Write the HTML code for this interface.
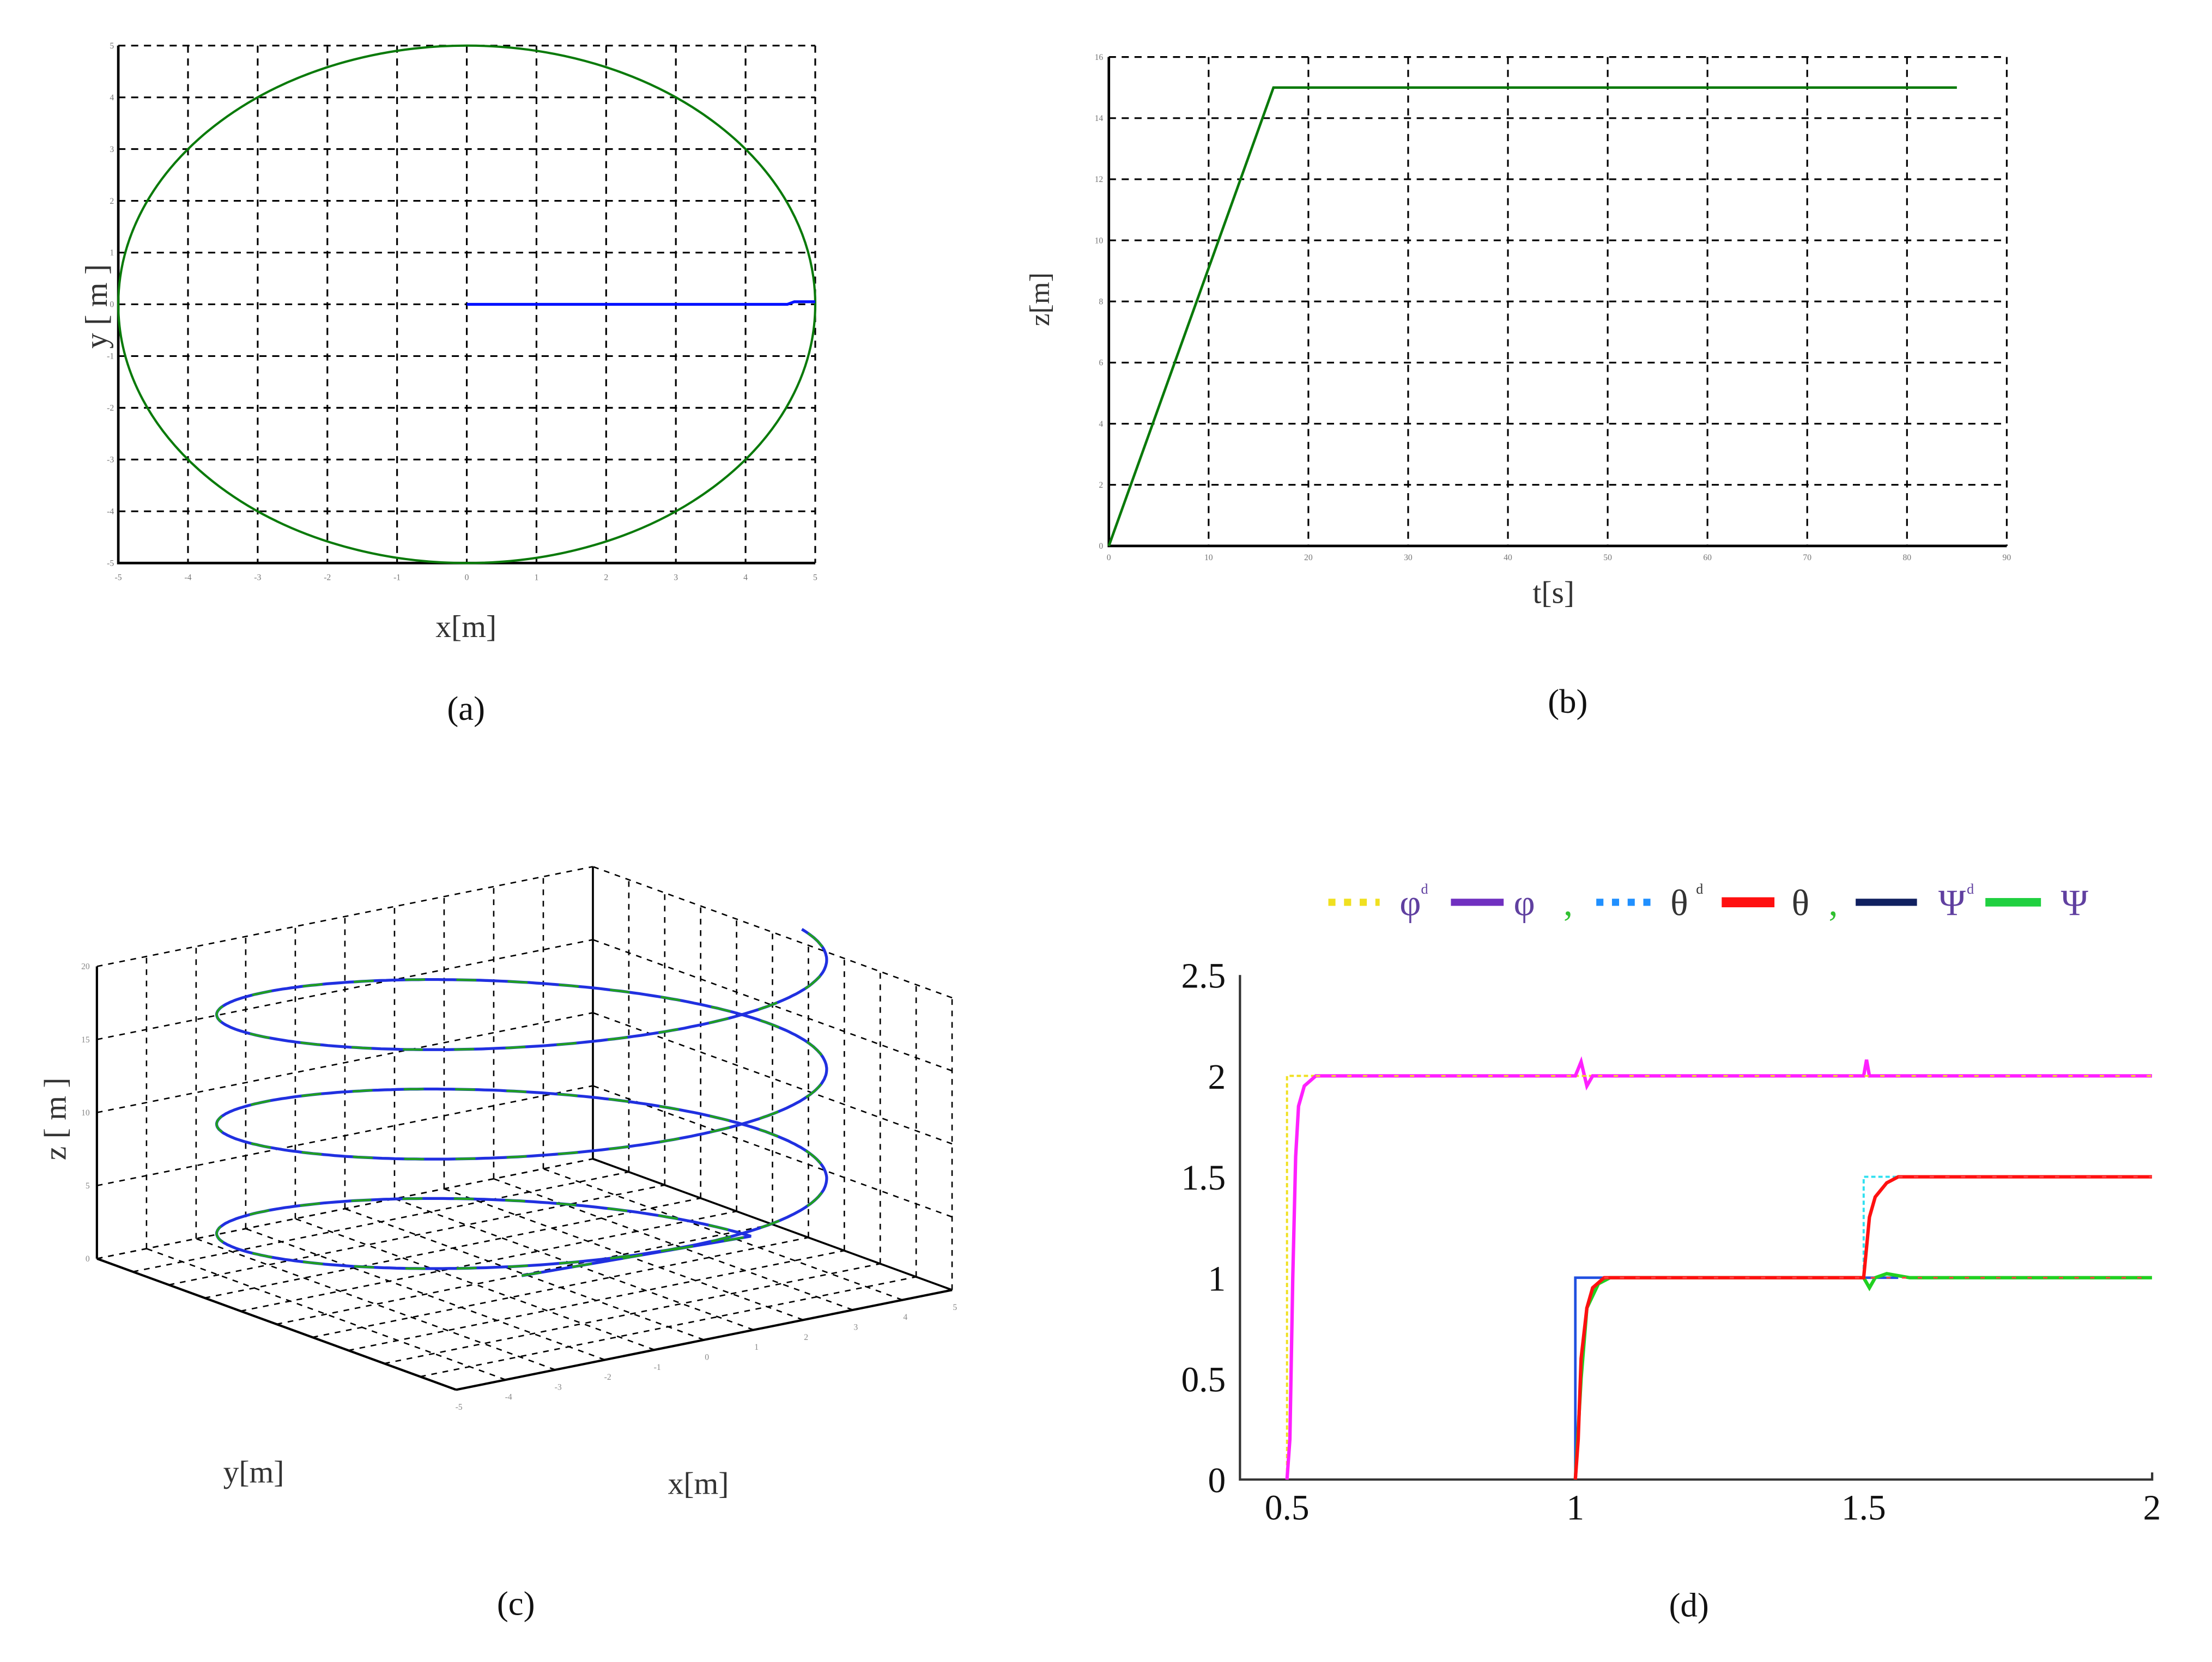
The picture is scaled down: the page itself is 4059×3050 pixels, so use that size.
<!DOCTYPE html>
<html><head><meta charset="utf-8"><style>
html,body{margin:0;padding:0;background:#fff;}
svg{display:block;}
text{font-family:"Liberation Serif",serif;}
</style></head><body>
<svg id="fig" width="4059" height="3050" viewBox="0 0 1552 1166" preserveAspectRatio="none" xmlns="http://www.w3.org/2000/svg">
<rect width="1552" height="1166" fill="#fff"/>
<g id="pa"></g>
<g id="pb"></g>
<g id="pc"></g>
<g id="pd"></g>
</svg>
<script>
// ---- Panel (a) data
const aTicks = [-5,-4,-3,-2,-1,0,1,2,3,4,5];
const aCircleR = [5];
const aBlueX = [0, 4.6, 4.7, 5];
const aBlueY = [0, 0, 0.05, 0.05];
// ---- Panel (b) data
const bXTicks = [0,10,20,30,40,50,60,70,80,90];
const bYTicks = [0,2,4,6,8,10,12,14,16];
const bT = [0, 16.5, 85];
const bZ = [0, 15, 15];
// ---- Panel (c) data
const cZTicks = [0,5,10,15,20];
const cXTicks = [-5,-4,-3,-2,-1,0,1,2,3,4,5];
const cTurns = [2.95];
const cZTop = [22.1];
const cStartAngle = [0.72];
// ---- Panel (d) data
const dXTicks = [0.5,1,1.5,2];
const dYTicks = [0,0.5,1,1.5,2,2.5];
const phiDT = [0.5,0.5,2];       const phiDV = [0,2,2];
const phiT = [0.5,0.505,0.51,0.515,0.52,0.53,0.55,1.0,1.01,1.02,1.03,1.5,1.505,1.51,2];
const phiV = [0,0.2,1.0,1.6,1.85,1.95,2,2,2.07,1.95,2,2,2.08,2,2];
const thDT = [1,1,1.5,1.5,2];  const thDV = [0,1,1,1.5,1.5];
const thT = [1,1.005,1.01,1.02,1.03,1.05,1.5,1.505,1.51,1.52,1.54,1.56,2];
const thV = [0,0.2,0.6,0.85,0.95,1,1,1.15,1.3,1.4,1.47,1.5,1.5];
const psDT = [1,1,1.5,1.5,1.56];      const psDV = [0,1,1,1,1];
const psT = [1,1.01,1.02,1.04,1.06,1.5,1.51,1.52,1.54,1.58,2];
const psV = [0,0.5,0.85,0.97,1,1,0.95,1.0,1.02,1.0,1];

const NS='http://www.w3.org/2000/svg';
function mk(parent,tag,attrs,txt){const e=document.createElementNS(NS,tag);for(const k in attrs)e.setAttribute(k,attrs[k]);if(txt!==undefined)e.textContent=txt;parent.appendChild(e);return e;}
function pts(xs,ys,sx,sy){return xs.map((x,i)=>sx(x)+','+sy(ys[i])).join(' ');}

// ===== Panel A
(function(){
const g=document.getElementById('pa');
const L=83,R=572,T=32,B=395;
const sx=v=>L+(v+5)/10*(R-L), sy=v=>B-(v+5)/10*(B-T);
aTicks.forEach(t=>{
  const gl=mk(g,'line',{x1:sx(t),x2:sx(t),y1:T,y2:B,stroke:'#000','stroke-width':1.2,'stroke-dasharray':'5,4'});
  
  
  const gh=mk(g,'line',{x1:L,x2:R,y1:sy(t),y2:sy(t),stroke:'#000','stroke-width':1.2,'stroke-dasharray':'5,4'});
  
  
  const tx=mk(g,'text',{x:sx(t),y:B+12,'font-size':6,'text-anchor':'middle',fill:'#777'},t);
  
  
  const ty=mk(g,'text',{x:L-3,y:sy(t)+2,'font-size':6,'text-anchor':'end',fill:'#777'},t);
  
  
});
const ax=mk(g,'polyline',{points:`${L},${T} ${L},${B} ${R},${B}`,fill:'none',stroke:'#000','stroke-width':1.8});


const r=aCircleR[0];
const c=mk(g,'ellipse',{cx:sx(0),cy:sy(0),rx:sx(r)-sx(0),ry:sy(0)-sy(r),fill:'none',stroke:'#0a7a0a','stroke-width':1.6});


const bl=mk(g,'polyline',{points:pts(aBlueX,aBlueY,sx,sy),fill:'none',stroke:'#0010ff','stroke-width':2});


const xl=mk(g,'text',{x:327,y:447,'font-size':22,'text-anchor':'middle',fill:'#333'},'x[m]');


const yl=mk(g,'text',{x:0,y:0,'font-size':22,'text-anchor':'middle',fill:'#333',transform:'translate(75,215) rotate(-90)'},'y [ m ]');


const cap=mk(g,'text',{x:327,y:505,'font-size':24,'text-anchor':'middle',fill:'#111'},'(a)');


})();

// ===== Panel B
(function(){
const g=document.getElementById('pb');
const L=778,R=1408,T=40,B=383;
const sx=v=>L+v/90*(R-L), sy=v=>B-v/16*(B-T);
bXTicks.forEach(t=>{
  const gl=mk(g,'line',{x1:sx(t),x2:sx(t),y1:T,y2:B,stroke:'#000','stroke-width':1.2,'stroke-dasharray':'5,4'});
  
  
  const tx=mk(g,'text',{x:sx(t),y:B+10,'font-size':6,'text-anchor':'middle',fill:'#777'},t);
  
  
});
bYTicks.forEach(t=>{
  const gh=mk(g,'line',{x1:L,x2:R,y1:sy(t),y2:sy(t),stroke:'#000','stroke-width':1.2,'stroke-dasharray':'5,4'});
  
  
  const ty=mk(g,'text',{x:L-4,y:sy(t)+2,'font-size':6,'text-anchor':'end',fill:'#777'},t);
  
  
});
const ax=mk(g,'polyline',{points:`${L},${T} ${L},${B} ${R},${B}`,fill:'none',stroke:'#000','stroke-width':1.8});


const ln=mk(g,'polyline',{points:pts(bT,bZ,sx,sy),fill:'none',stroke:'#0a7a0a','stroke-width':1.8});


const xl=mk(g,'text',{x:1090,y:423,'font-size':22,'text-anchor':'middle',fill:'#333'},'t[s]');


const yl=mk(g,'text',{x:0,y:0,'font-size':20,'text-anchor':'middle',fill:'#333',transform:'translate(736,210) rotate(-90)'},'z[m]');


const cap=mk(g,'text',{x:1100,y:500,'font-size':24,'text-anchor':'middle',fill:'#111'},'(b)');


})();

// ===== Panel C (3D)
(function(){
const g=document.getElementById('pc');
const O=[320,975], ex=[348,-70], ey=[-252,-92], ez=[0,-205];
const P=(x,y,z)=>{const u=(x+5)/10,v=(y+5)/10,w=z/20;return [O[0]+u*ex[0]+v*ey[0]+w*ez[0],O[1]+u*ex[1]+v*ey[1]+w*ez[1]];};
const dash={stroke:'#000','stroke-width':1,'stroke-dasharray':'4,4',fill:'none'};
function L3(a,b,st,name){const p=P(...a),q=P(...b);const l=mk(g,'line',Object.assign({x1:p[0],y1:p[1],x2:q[0],y2:q[1]},st));}
cXTicks.forEach(t=>{
  L3([t,5,0],[t,5,20],dash,'grid-back-left-vertical');
  L3([5,t,0],[5,t,20],dash,'grid-back-right-vertical');
  L3([t,-5,0],[t,5,0],dash,'grid-floor');
  L3([-5,t,0],[5,t,0],dash,'grid-floor');
});
cZTicks.forEach(z=>{
  L3([-5,5,z],[5,5,z],dash,'grid-back-left-horizontal');
  L3([5,-5,z],[5,5,z],dash,'grid-back-right-horizontal');
});
const solid={stroke:'#000','stroke-width':1.6};
L3([-5,5,0],[-5,5,20],solid,'z-axis');
L3([-5,5,0],[-5,-5,0],solid,'y-axis');
L3([-5,-5,0],[5,-5,0],solid,'x-axis');
L3([5,5,0],[5,5,20],{stroke:'#000','stroke-width':1.4},'back-edge');
L3([5,5,0],[5,-5,0],{stroke:'#000','stroke-width':1.4},'back-floor-edge');
cZTicks.forEach(z=>{const p=P(-5,5,z);const t=mk(g,'text',{x:p[0]-5,y:p[1]+2,'font-size':6,'text-anchor':'end',fill:'#888'},z);});
cXTicks.forEach(x=>{const p=P(x,-5,0);const t=mk(g,'text',{x:p[0]+2,y:p[1]+14,'font-size':6,'text-anchor':'middle',fill:'#888'},x);});
// helix (own screen mapping)
const HX=366, HY0=895, HZ=205/20, HRX=214, HRY=42;
const H=(x,y,z)=>[HX+x/5*HRX, HY0-z*HZ-y/5*HRY];
const turns=cTurns[0], zt=cZTop[0], a0=cStartAngle[0], N=800, r=5;
let hp=[H(0,0,0)];
for(let i=0;i<=N;i++){const th=a0+i/N*turns*2*Math.PI;const z=zt*i/N;hp.push(H(r*Math.cos(th),r*Math.sin(th),z));}
const ps=hp.map(p=>p[0].toFixed(1)+','+p[1].toFixed(1)).join(' ');
const hb=mk(g,'polyline',{points:ps,fill:'none',stroke:'#2030e0','stroke-width':2});


const hg=mk(g,'polyline',{points:ps,fill:'none',stroke:'#20a020','stroke-width':1.6,'stroke-dasharray':'14,22'});


const zl=mk(g,'text',{x:0,y:0,'font-size':22,'text-anchor':'middle',fill:'#333',transform:'translate(46,785) rotate(-90)'},'z [ m ]');


const yl=mk(g,'text',{x:178,y:1040,'font-size':22,'text-anchor':'middle',fill:'#333'},'y[m]');


const xl=mk(g,'text',{x:490,y:1048,'font-size':22,'text-anchor':'middle',fill:'#333'},'x[m]');


const cap=mk(g,'text',{x:362,y:1133,'font-size':24,'text-anchor':'middle',fill:'#111'},'(c)');


})();

// ===== Panel D
(function(){
const g=document.getElementById('pd');
const L=870,R=1510,T=684,B=1038;
const sx=v=>903+(v-0.5)/0.5*202.3, sy=v=>B-v/2.5*(B-T);
const ax=mk(g,'polyline',{points:`${L},${T} ${L},${B} ${R},${B} ${R},${B-5}`,fill:'none',stroke:'#333','stroke-width':1.6});


dXTicks.forEach(t=>{const tx=mk(g,'text',{x:sx(t),y:B+28,'font-size':25,'text-anchor':'middle',fill:'#111'},t);});
dYTicks.forEach(t=>{const ty=mk(g,'text',{x:L-10,y:sy(t)+9,'font-size':25,'text-anchor':'end',fill:'#111'},t);});
function line(xs,ys,col,w,da,name){const a={points:pts(xs,ys,sx,sy),fill:'none',stroke:col,'stroke-width':w};if(da)a['stroke-dasharray']=da;const l=mk(g,'polyline',a);}
line(phiDT,phiDV,'#f0e020',1.5,'3,2','phi-desired');
line(thDT,thDV,'#30e0f0',1.5,'3,2','theta-desired');
line(psDT,psDV,'#2050e0',1.8,null,'psi-desired');
line(psT,psV,'#20d020',2.4,null,'psi-actual');
line(thT,thV,'#ff1010',2.4,null,'theta-actual');
line(phiT,phiV,'#ff20ff',2.4,null,'phi-actual');
line([0.55,2],[2,2],'#f0e020',1.2,'3,8','phi-overlay');
line([1.05,2],[1,1],'#ff4040',1.2,'3,8','theta-overlay');
line([1.56,2],[1.5,1.5],'#ff4040',1.2,'3,8','theta-overlay');
const lg=mk(g,'g',{});


const Y=633;
function seg(x1,x2,col,w,da,name){const a={x1:x1,x2:x2,y1:Y,y2:Y,stroke:col,'stroke-width':w};if(da)a['stroke-dasharray']=da;const l=mk(lg,'line',a);}
function txt(x,s,col,name,fs){const t=mk(lg,'text',{x:x,y:Y+9,'font-size':fs||26,fill:col},s);return t;}
seg(932,968,'#f0e020',5,'5,6','legend-phi-d-swatch'); txt(982,'φ','#6040a0','legend-phi-d-label'); txt(997,'d','#6040a0','legend-sup',10).setAttribute('y',Y-6);
seg(1018,1055,'#7030c0',5,null,'legend-phi-swatch'); txt(1062,'φ','#6040a0','legend-phi-label');
txt(1097,',','#30c030','legend-sep');
seg(1120,1160,'#2090ff',5,'5,6','legend-theta-d-swatch'); txt(1172,'θ','#333','legend-theta-d-label'); txt(1190,'d','#333','legend-sup',10).setAttribute('y',Y-6);
seg(1208,1245,'#ff1010',7,null,'legend-theta-swatch'); txt(1257,'θ','#333','legend-theta-label');
txt(1283,',','#30c030','legend-sep');
seg(1302,1345,'#102060',5,null,'legend-psi-d-swatch'); txt(1360,'Ψ','#6040a0','legend-psi-d-label'); txt(1380,'d','#6040a0','legend-sup',10).setAttribute('y',Y-6);
seg(1393,1432,'#20d040',6,null,'legend-psi-swatch'); txt(1446,'Ψ','#6040a0','legend-psi-label');
const cap=mk(g,'text',{x:1185,y:1134,'font-size':24,'text-anchor':'middle',fill:'#111'},'(d)');


})();
</script>
</body></html>
